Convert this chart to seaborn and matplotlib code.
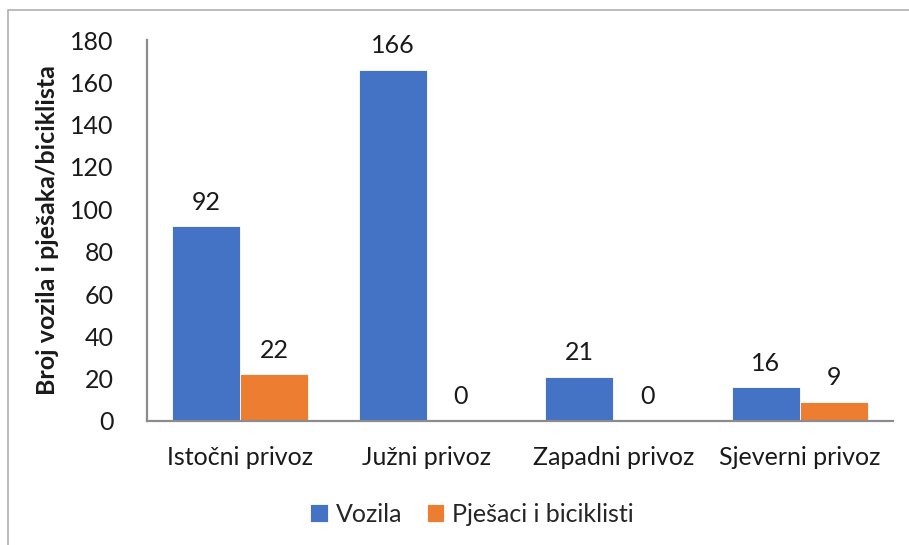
import matplotlib
matplotlib.use("Agg")
import matplotlib.pyplot as plt
import seaborn as sns
import pandas as pd
from matplotlib.patches import Rectangle

# podaci
privozi = ["Istočni privoz", "Južni privoz", "Zapadni privoz", "Sjeverni privoz"]
vozila = [92, 166, 21, 16]
pjesaci = [22, 0, 0, 9]
serije = ["Vozila", "Pješaci i biciklisti"]
yticks = [0, 20, 40, 60, 80, 100, 120, 140, 160, 180]

df = pd.DataFrame({
    "privoz": privozi * 2,
    "serija": [serije[0]] * len(privozi) + [serije[1]] * len(privozi),
    "broj": vozila + pjesaci,
})

sns.set_style("white")
plt.rcParams["font.family"] = ["Lato", "DejaVu Sans"]
fs = 18

fig = plt.figure(figsize=(9.09, 5.45), dpi=100)
W, H = 909, 545
ax = fig.add_axes([147 / W, 1 - 421 / H, (893 - 147) / W, (421 - 40) / H])

sns.barplot(data=df, x="privoz", y="broj", hue="serija", order=privozi,
            hue_order=serije, palette=["#4472C4", "#ED7D31"], saturation=1,
            width=0.73, gap=0, edgecolor="white", linewidth=0.6, ax=ax,
            legend=True)

for c in ax.containers:
    ax.bar_label(c, fmt="%d", padding=9, fontsize=fs, color="#1a1a1a")

ax.set_ylim(0, 180)
ax.set_yticks(yticks)
ax.set_xlim(-0.5, 3.5)
ax.tick_params(axis="y", length=0, pad=24, labelsize=fs, labelcolor="#1a1a1a")
ax.tick_params(axis="x", length=0, pad=18, labelsize=fs, labelcolor="#1a1a1a")
ax.set_xlabel("")
ax.set_ylabel("Broj vozila i pješaka/biciklista", fontsize=fs, fontweight="bold",
              color="#1a1a1a", labelpad=8)
for s in ["top", "right"]:
    ax.spines[s].set_visible(False)
for s in ["left", "bottom"]:
    ax.spines[s].set_color("#8c8c8c")
    ax.spines[s].set_linewidth(1.6)

handles, labels = ax.get_legend_handles_labels()
ax.get_legend().remove()
fig.legend(handles, labels, loc="center", bbox_to_anchor=(472 / W, 1 - 514 / H),
           ncol=2, frameon=False, fontsize=fs, handlelength=0.7, handleheight=0.7,
           handletextpad=0.3, columnspacing=1.0)

# okvir grafikona
fig.patches.append(Rectangle((8 / W, -0.1), 1.2, 1 - 10 / H + 0.1,
                             transform=fig.transFigure, fill=False,
                             edgecolor="#b0b0b0", linewidth=1.2))

fig.savefig("out.png", dpi=100)
